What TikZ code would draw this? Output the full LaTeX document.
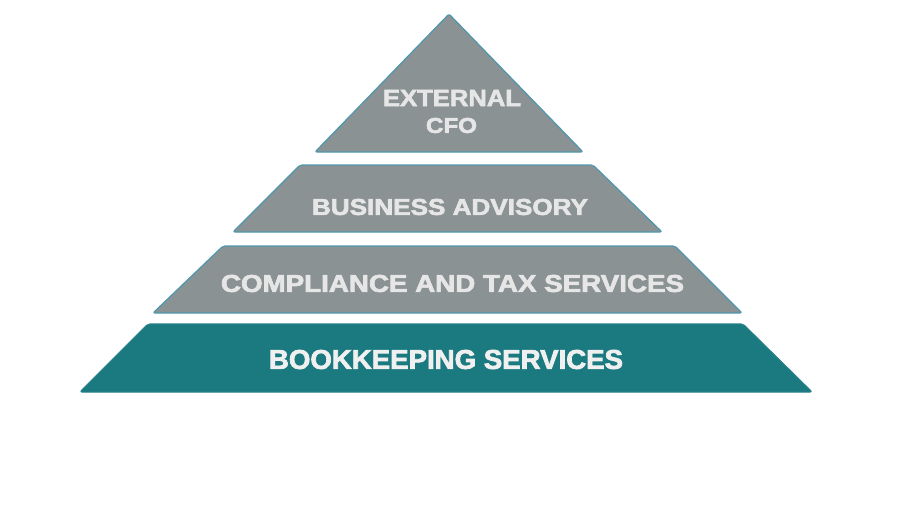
\documentclass[tikz,border=0pt]{standalone}
\usepackage{graphicx}
\usepackage{fontspec}
\setmainfont{Liberation Sans}[BoldFeatures={FakeBold=2.6}]
\definecolor{tiergray}{HTML}{8A9293}
\definecolor{tierteal}{HTML}{1B7A80}
\definecolor{tieredge}{HTML}{4F97AE}
\definecolor{tiertext}{HTML}{E6E6E6}
\tikzset{
  tier/.style={draw=tieredge, line width=1.2pt, rounded corners=2pt, line join=round},
  tierlabel/.style={text=tiertext, inner sep=0pt, font=\bfseries, anchor=center},
}
\begin{document}
\begin{tikzpicture}[x=1pt,y=-1pt]
\useasboundingbox (0,0) rectangle (915,507);
% apex triangle
\path[tier, fill=tiergray] (315,152) -- (449,14) -- (583,152) -- cycle;
% business advisory
\path[tier, fill=tiergray] (233,232) -- (300,165) -- (593,165) -- (662,232) -- cycle;
% compliance
\path[tier, fill=tiergray] (153,313) -- (223,246) -- (675,246) -- (742,313) -- cycle;
% bookkeeping
\path[tier, fill=tierteal, draw=tierteal!80!tieredge] (80,392) -- (148,324) -- (743,324) -- (812,392) -- cycle;
% labels
\node[tierlabel] (ext) at (452,98) {\resizebox{138pt}{16pt}{EXTERNAL}};
\node[tierlabel] (cfo) at (451.5,125.5) {\resizebox{51pt}{15pt}{CFO}};
\node[tierlabel] (bus) at (450,207) {\resizebox{276pt}{16pt}{BUSINESS ADVISORY}};
\node[tierlabel] (comp) at (452.5,283.5) {\resizebox{463pt}{17pt}{COMPLIANCE AND TAX SERVICES}};
\node[tierlabel, text=white!94!black] (book) at (446,359.5) {\resizebox{354pt}{19pt}{BOOKKEEPING SERVICES}};
\end{tikzpicture}
\end{document}
